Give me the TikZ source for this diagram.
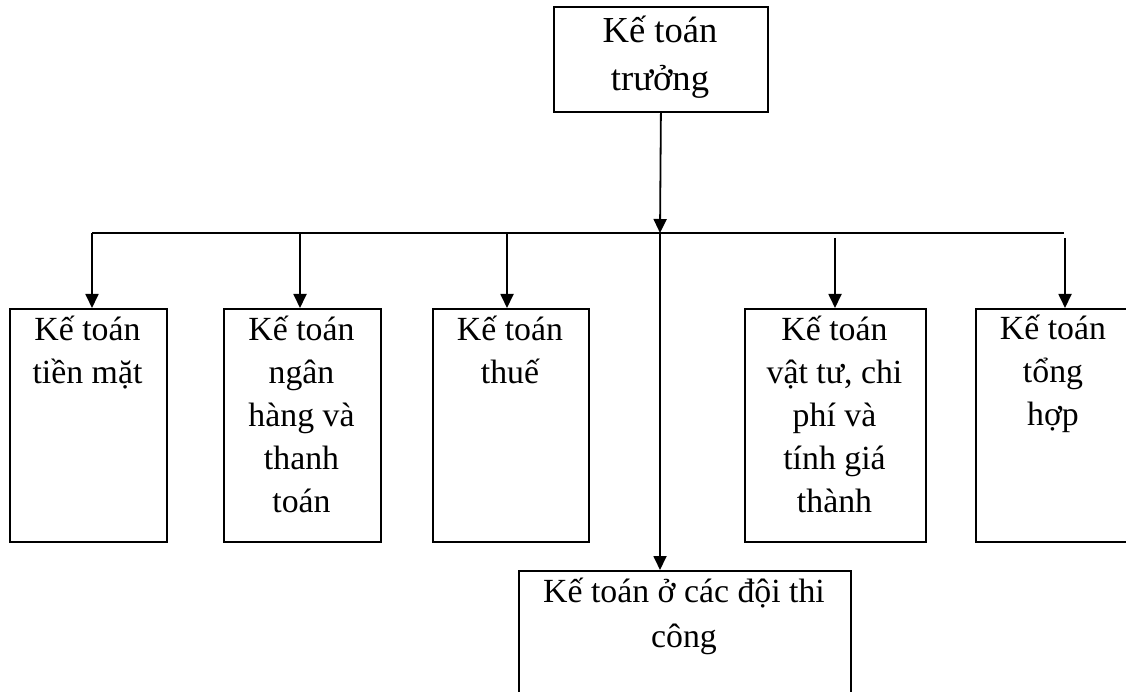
\documentclass[tikz,border=0pt]{standalone}
\usepackage{fontspec}
\setmainfont{Liberation Serif}
\usetikzlibrary{arrows.meta,calc}
\begin{document}
\begin{tikzpicture}[x=1pt,y=-1pt,
  box/.style={draw, line width=1.8pt, inner sep=0pt, anchor=north west},
  % labels are placed by the baseline of their last line
  lbl/.style={align=center, inner sep=0pt, anchor=base,
    font=\fontsize{33.8}{43}\selectfont},
  wire/.style={line width=1.8pt},
  arr/.style={wire, -{Triangle[width=13pt,length=14pt]}}]
\useasboundingbox (0,0) rectangle (1126,692);

% boxes
\node[box, minimum width=214pt, minimum height=105pt] (top) at (553,6) {};
\node[box, minimum width=157pt, minimum height=233pt] (b1) at (9,308) {};
\node[box, minimum width=157pt, minimum height=233pt] (b2) at (223,308) {};
\node[box, minimum width=156pt, minimum height=233pt] (b3) at (432,308) {};
\node[box, minimum width=181pt, minimum height=233pt] (b4) at (744,308) {};
\node[box, minimum width=180pt, minimum height=233pt] (b5) at (975,308) {};
\node[box, minimum width=332pt, minimum height=140pt] (bot) at (518,570) {};

% labels
\node[lbl, font=\fontsize{36.6}{48}\selectfont] (ttop) at (660,91) {Kế toán\\trưởng};
\node[lbl] (t1) at (87.5,383) {Kế toán\\tiền mặt};
\node[lbl] (t2) at (301.5,512) {Kế toán\\ngân\\hàng và\\thanh\\toán};
\node[lbl] (t3) at (510,383) {Kế toán\\thuế};
\node[lbl] (t4) at (834.5,512) {Kế toán\\vật tư, chi\\phí và\\tính giá\\thành};
\node[lbl] (t5) at (1053,425) {Kế toán\\tổng\\hợp};
\node[lbl, font=\fontsize{33.8}{45}\selectfont] (tbot) at (684,647) {Kế toán ở các đội thi\\công};

% connectors
\coordinate (j0) at (660,233);
\coordinate (jl) at (92,233);
\coordinate (jr) at (1064,233);
\coordinate (j2) at (300,233);
\coordinate (j3) at (507,233);
\coordinate (j4) at (835,238);
\coordinate (j5) at (1065,238);

\draw[arr] (top.south) -- (j0);
\draw[wire] (jl) -- (jr);
\draw[arr] (j0) -- (j0 |- bot.north);
\draw[arr] (jl) -- (jl |- b1.north);
\draw[arr] (j2) -- (j2 |- b2.north);
\draw[arr] (j3) -- (j3 |- b3.north);
\draw[arr] (j4) -- (j4 |- b4.north);
\draw[arr] (j5) -- (j5 |- b5.north);
\end{tikzpicture}
\end{document}
